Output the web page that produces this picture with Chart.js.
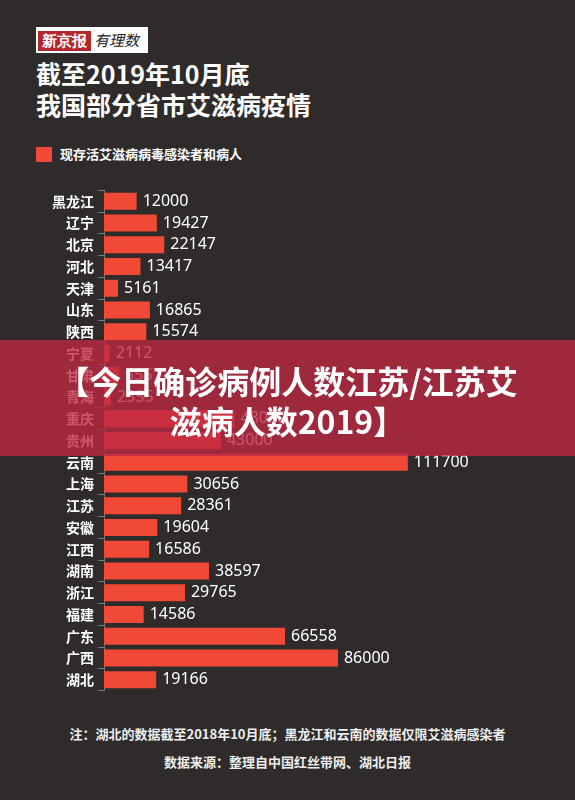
<!DOCTYPE html>
<html>
<head>
<meta charset="utf-8">
<script src="https://cdn.jsdelivr.net/npm/chart.js@4"></script>
<style>
  body { margin: 0; width: 575px; height: 800px; background: #2f2b2b; font-family: "Noto Sans CJK SC", sans-serif; color: #fff; position: relative; overflow: hidden; }
  .logo { position: absolute; left: 36px; top: 27px; width: 112px; height: 26px; background: #fff; }
  .logo span { display: inline-block; background: #b3262b; color: #fff; font-family: serif; font-weight: bold; font-size: 15px; line-height: 20px; padding: 0 4px; margin: 3px 0 0 2px; }
  .logo i { font-size: 15px; color: #222; margin-left: 3px; }
  .title { position: absolute; left: 36px; top: 58px; font-size: 25px; font-weight: bold; line-height: 31px; }
  .legend { position: absolute; left: 36px; top: 144px; font-size: 13px; font-weight: bold; }
  .legend b { display: inline-block; width: 16px; height: 15px; background: #f04a36; vertical-align: -3px; margin-right: 8px; }
  .banner { position: absolute; left: 0; top: 340px; width: 575px; height: 116px; background: rgba(190, 40, 65, 0.78); color: #fff; font-weight: bold; font-size: 32px; line-height: 40px; text-align: center; padding-top: 20px; box-sizing: border-box; }
  .note { position: absolute; left: 0; width: 575px; text-align: center; font-size: 13px; font-weight: bold; color: #eee; }
  #wrap { position: absolute; left: 0; top: 178px; width: 575px; height: 525px; }
</style>
</head>
<body>
<div class="logo"><span>新京报</span><i>有理数</i></div>
<div class="title">截至2019年10月底<br>我国部分省市艾滋病疫情</div>
<div class="legend"><b></b>现存活艾滋病病毒感染者和病人</div>
<div id="wrap"><canvas id="chart"></canvas></div>
<div class="banner">【今日确诊病例人数江苏/江苏艾<br>滋病人数2019】</div>
<div class="note" style="top:724px">注：湖北的数据截至2018年10月底；黑龙江和云南的数据仅限艾滋病感染者</div>
<div class="note" style="top:752px">数据来源：整理自中国红丝带网、湖北日报</div>
<script>
var provinces = ['黑龙江', '辽宁', '北京', '河北', '天津', '山东', '陕西', '宁夏', '甘肃', '青海', '重庆', '贵州', '云南', '上海', '江苏', '安徽', '江西', '湖南', '浙江', '福建', '广东', '广西', '湖北'];
var cases = [12000, 19427, 22147, 13417, 5161, 16865, 15574, 2112, 5557, 2555, 48000, 43000, 111700, 30656, 28361, 19604, 16586, 38597, 29765, 14586, 66558, 86000, 19166];

var valueLabels = {
    id: 'valueLabels',
    afterDatasetsDraw: function (chart) {
        var ctx = chart.ctx;
        var meta = chart.getDatasetMeta(0);
        ctx.save();
        ctx.fillStyle = '#ffffff';
        ctx.font = '16px "Noto Sans", sans-serif';
        ctx.textBaseline = 'middle';
        meta.data.forEach(function (bar, i) {
            ctx.fillText(String(cases[i]), bar.x + 6, bar.y);
        });
        ctx.restore();
    }
};

new Chart(document.getElementById('chart').getContext('2d'), {
    type: 'bar',
    data: {
        labels: provinces,
        datasets: [{
            data: cases,
            backgroundColor: '#f04a36',
            borderWidth: 0,
            categoryPercentage: 0.78,
            barPercentage: 1
        }]
    },
    plugins: [valueLabels],
    options: {
        indexAxis: 'y',
        responsive: true,
        maintainAspectRatio: false,
        animation: false,
        layout: { padding: { left: 0, right: 63, top: 0, bottom: 0 } },
        plugins: { legend: { display: false }, tooltip: { enabled: false } },
        scales: {
            x: {
                display: false,
                min: 0,
                max: 150000
            },
            y: {
                afterFit: function (scale) { scale.width = 104; },
                ticks: { color: '#ffffff', font: { size: 14, weight: 'bold', family: '"Noto Sans CJK SC"' }, padding: 4 },
                grid: { display: true, drawOnChartArea: false, drawTicks: true, tickLength: 6, color: '#777' },
                border: { display: true, color: '#777' }
            }
        }
    }
});
</script>
</body>
</html>
